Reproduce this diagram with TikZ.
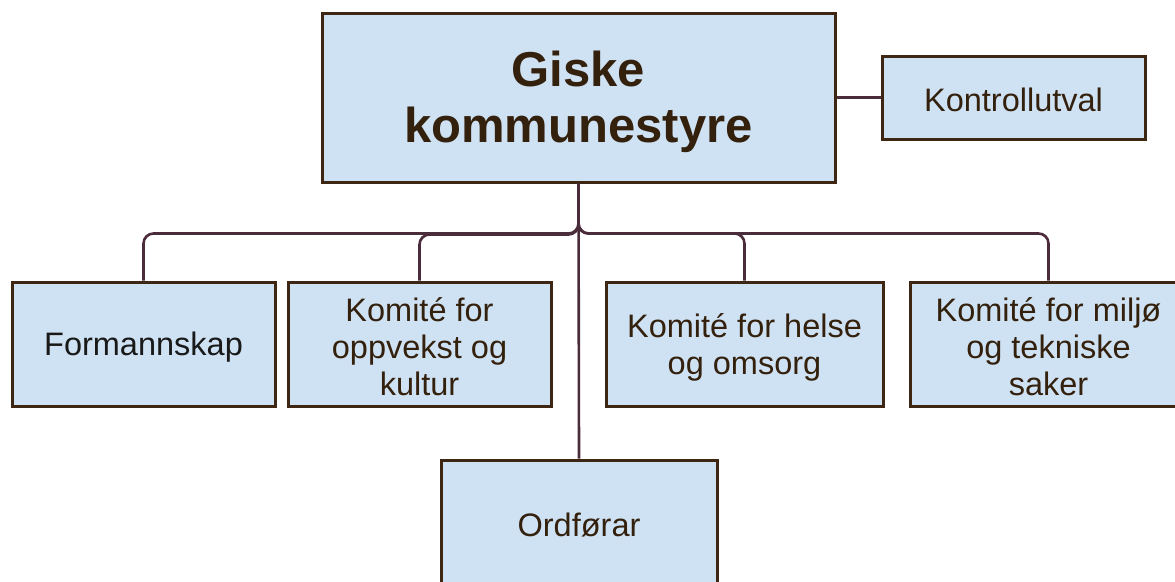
\documentclass[tikz,border=0pt]{standalone}
\usepackage{fontspec}
\setmainfont{Liberation Sans}
\definecolor{boxfill}{HTML}{CFE2F3}
\definecolor{boxline}{HTML}{3E2712}
\definecolor{connline}{HTML}{4A2C3A}
\definecolor{txt}{HTML}{33200D}
\tikzset{
  orgbox/.style={draw=boxline, line width=3pt, fill=boxfill, inner sep=0pt},
  bodytext/.style={text=txt, align=center, inner sep=0pt, font=\fontsize{32.5}{37}\selectfont},
  titletext/.style={bodytext, font=\fontsize{49}{56}\selectfont\bfseries},
  conn/.style={draw=connline, line width=2.6pt, rounded corners=10pt}
}
\begin{document}
\begin{tikzpicture}[x=1pt,y=-1pt]
\useasboundingbox (0,0) rectangle (1175,581);
\clip (0,0) rectangle (1175,581);
\node[orgbox, minimum width=513pt, minimum height=169pt] (main) at (578.5,97.5) {};
\node[titletext] (maint) at ([yshift=-4pt]main.center) {Giske\\kommunestyre};
\node[orgbox, minimum width=263pt, minimum height=83pt] (kont) at (1013.5,97.5) {};
\node[bodytext] (kontt) at ([yshift=-2pt]kont.center) {Kontrollutval};
\node[orgbox, minimum width=263pt, minimum height=124pt] (form) at (143.5,344) {};
\node[bodytext, text=black!90] (formt) at ([yshift=-3pt]form.center) {Formannskap};
\node[orgbox, minimum width=263pt, minimum height=124pt] (oppv) at (419.5,344) {};
\node[bodytext] (oppvt) at ([yshift=-3pt]oppv.center) {Komité for\\oppvekst og\\kultur};
\node[orgbox, minimum width=277pt, minimum height=124pt] (hels) at (744.5,344) {};
\node[bodytext] (helst) at ([yshift=-3pt]hels.center) {Komité for helse\\og omsorg};
\node[orgbox, minimum width=277pt, minimum height=124pt] (milj) at (1048.5,344) {};
\node[bodytext] (miljt) at ([yshift=-3pt]milj.center) {Komité for miljø\\og tekniske\\saker};
\node[orgbox, minimum width=276pt, minimum height=150pt] (ord) at (579,535) {};
\node[bodytext] (ordt) at (579,525) {Ordførar};
\draw[conn] (main.east) -- (kont.west);
\draw[conn] (main.south) -- ++(0,50) -| (form.north);
\draw[conn] (main.south) -- ++(0,51) -| (oppv.north);
\draw[conn] (main.south) -- ++(0,50) -| (hels.north);
\draw[conn] (main.south) -- ++(0,50) -| (milj.north);
\draw[conn, rounded corners=0pt] (main.south) -- (ord.north);
\end{tikzpicture}
\end{document}
